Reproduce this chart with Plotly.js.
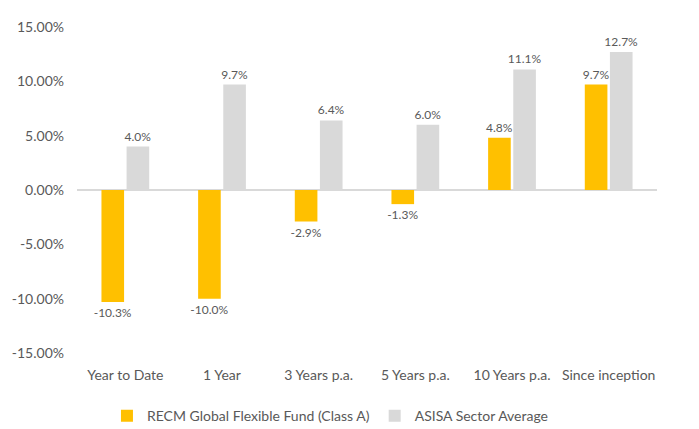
<!DOCTYPE html>
<html>
<head>
<meta charset="utf-8">
<script src="https://cdn.plot.ly/plotly-3.0.1.min.js"></script>
<style>html,body{margin:0;padding:0;background:#fff;}#chart{width:699px;height:429px;}</style>
</head>
<body>
<div id="chart"></div>
<script>
const categories = ["Year to Date", "1 Year", "3 Years p.a.", "5 Years p.a.", "10 Years p.a.", "Since inception"];
const recmValues = [-10.3, -10.0, -2.9, -1.3, 4.8, 9.7];
const asisaValues = [4.0, 9.7, 6.4, 6.0, 11.1, 12.7];
const seriesNames = ["RECM Global Flexible Fund (Class A)", "ASISA Sector Average"];
const yTicks = [-15, -10, -5, 0, 5, 10, 15];
const yTickLabels = yTicks.map(v => v.toFixed(2) + "%");

const fontFam = "Lato, 'Open Sans', sans-serif";
const txtColor = "#595959";

function mk(name, vals, color) {
  return {
    type: "bar", name: name, x: categories, y: vals,
    marker: {color: color},
    text: vals.map(v => v.toFixed(1) + "%"),
    textposition: "outside", cliponaxis: false, constraintext: "none",
    textfont: {family: fontFam, size: 12, color: txtColor},
    hoverinfo: "none"
  };
}

const traces = [
  mk(seriesNames[0], recmValues, "#FFC000"),
  mk(seriesNames[1], asisaValues, "#D9D9D9")
];

const layout = {
  width: 699, height: 429,
  margin: {l: 77, r: 42, t: 27, b: 76, autoexpand: false},
  paper_bgcolor: "#fff", plot_bgcolor: "#fff",
  font: {family: fontFam, color: txtColor, size: 14},
  barmode: "group", bargap: 0.48, bargroupgap: 0.1,
  xaxis: {
    type: "category", showgrid: false, showline: false, zeroline: false,
    ticks: "", tickfont: {size: 14, color: txtColor}, fixedrange: true, automargin: false,
    ticklabelstandoff: 12
  },
  yaxis: {
    range: [-15, 15], tickmode: "array", tickvals: yTicks, ticktext: yTickLabels,
    showgrid: false, showline: false, zeroline: true, zerolinecolor: "#D9D9D9", zerolinewidth: 1.5,
    tickfont: {size: 14, color: txtColor}, ticks: "", automargin: false,
    ticklabelstandoff: 12
  },
  showlegend: true,
  legend: {
    orientation: "h", x: 0.437, xanchor: "center", y: -0.145, yanchor: "top",
    font: {size: 14, color: txtColor}, traceorder: "normal"
  }
};

Plotly.newPlot("chart", traces, layout, {displayModeBar: false, staticPlot: true});
</script>
</body>
</html>
